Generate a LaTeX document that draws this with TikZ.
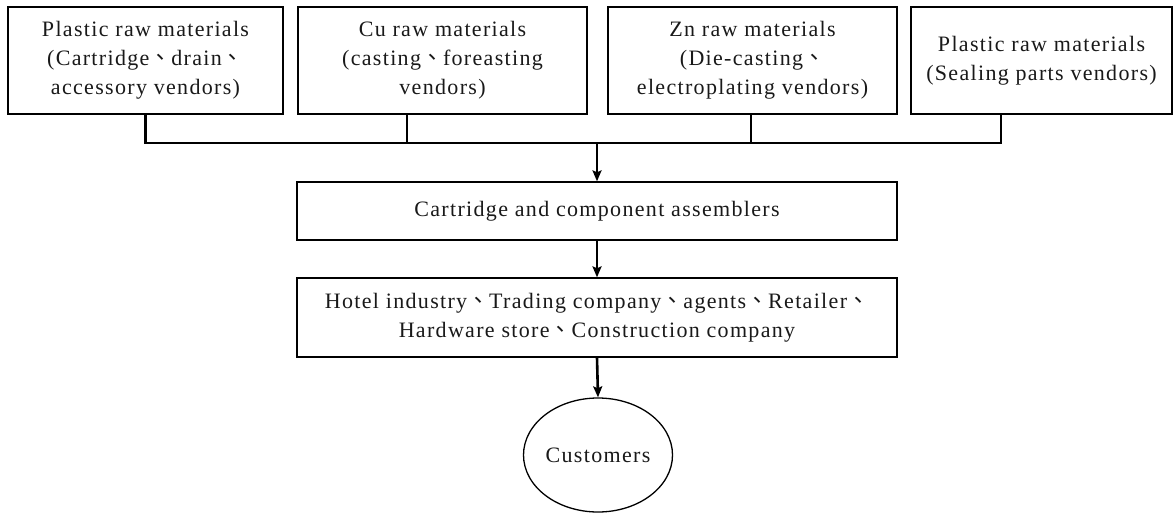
\documentclass[tikz,border=0pt]{standalone}
\usepackage{fontspec}
\setmainfont{Liberation Serif}[LetterSpace=6]
\newfontfamily\cjkfont{Noto Sans CJK TC}
% ideographic comma used as a list separator
\newcommand\dunhao{{\cjkfont 、}}
\usetikzlibrary{arrows.meta,shapes.geometric}

\begin{document}
\begin{tikzpicture}[x=1pt,y=-1pt,
  box/.style={draw=black, line width=1.3pt, rectangle, inner sep=0pt,
    align=center, font=\fontsize{22}{29}\selectfont, text=black!90},
  oval/.style={draw=black, line width=1.3pt, ellipse, inner sep=0pt,
    font=\fontsize{22}{29}\selectfont, text=black!90},
  conn/.style={draw=black, line width=2.3pt},
  arr/.style={draw=black, line width=2.6pt,
    -{Stealth[length=11pt,width=9pt,inset=2pt]}},
]
\useasboundingbox (0,0) rectangle (1175,514);

% suppliers
\node[box, minimum width=275pt, minimum height=107pt] (b1) at (145.5,60.5)
  {Plastic raw materials\\(Cartridge\dunhao drain\dunhao\\accessory vendors)};
\node[box, minimum width=289pt, minimum height=107pt] (b2) at (442.5,60.5)
  {Cu raw materials\\(casting\dunhao foreasting\\vendors)};
\node[box, minimum width=289pt, minimum height=107pt] (b3) at (752.5,60.5)
  {Zn raw materials\\(Die-casting\dunhao\\electroplating vendors)};
\node[box, minimum width=261pt, minimum height=107pt] (b4) at (1041.5,60.5)
  {Plastic raw materials\\(Sealing parts vendors)};

% assembly, channels, end users
\node[box, minimum width=600pt, minimum height=58pt] (asm) at (597,211)
  {Cartridge and component assemblers};
\node[box, minimum width=600pt, minimum height=79pt] (chan) at (597,317.5)
  {Hotel industry\dunhao Trading company\dunhao agents\dunhao Retailer\dunhao\\Hardware store\dunhao Construction company};
\node[oval, minimum width=149pt, minimum height=114pt] (cust) at (598,455)
  {Customers};

% collecting bus from suppliers
\coordinate (bus) at (597,143);
\draw[conn] (b1.south) |- (bus);
\draw[conn] ([xshift=-35.5pt]b2.south) -- ([xshift=-35.5pt]b2.south |- bus);
\draw[conn] ([xshift=-1.5pt]b3.south) -- ([xshift=-1.5pt]b3.south |- bus);
\draw[conn] ([xshift=-40.5pt]b4.south) |- (bus);

% flow arrows
\draw[arr] (bus) -- (asm.north);
\draw[arr] (asm.south) -- (chan.north);
\draw[arr] (chan.south) -- (cust.north);
\end{tikzpicture}
\end{document}
